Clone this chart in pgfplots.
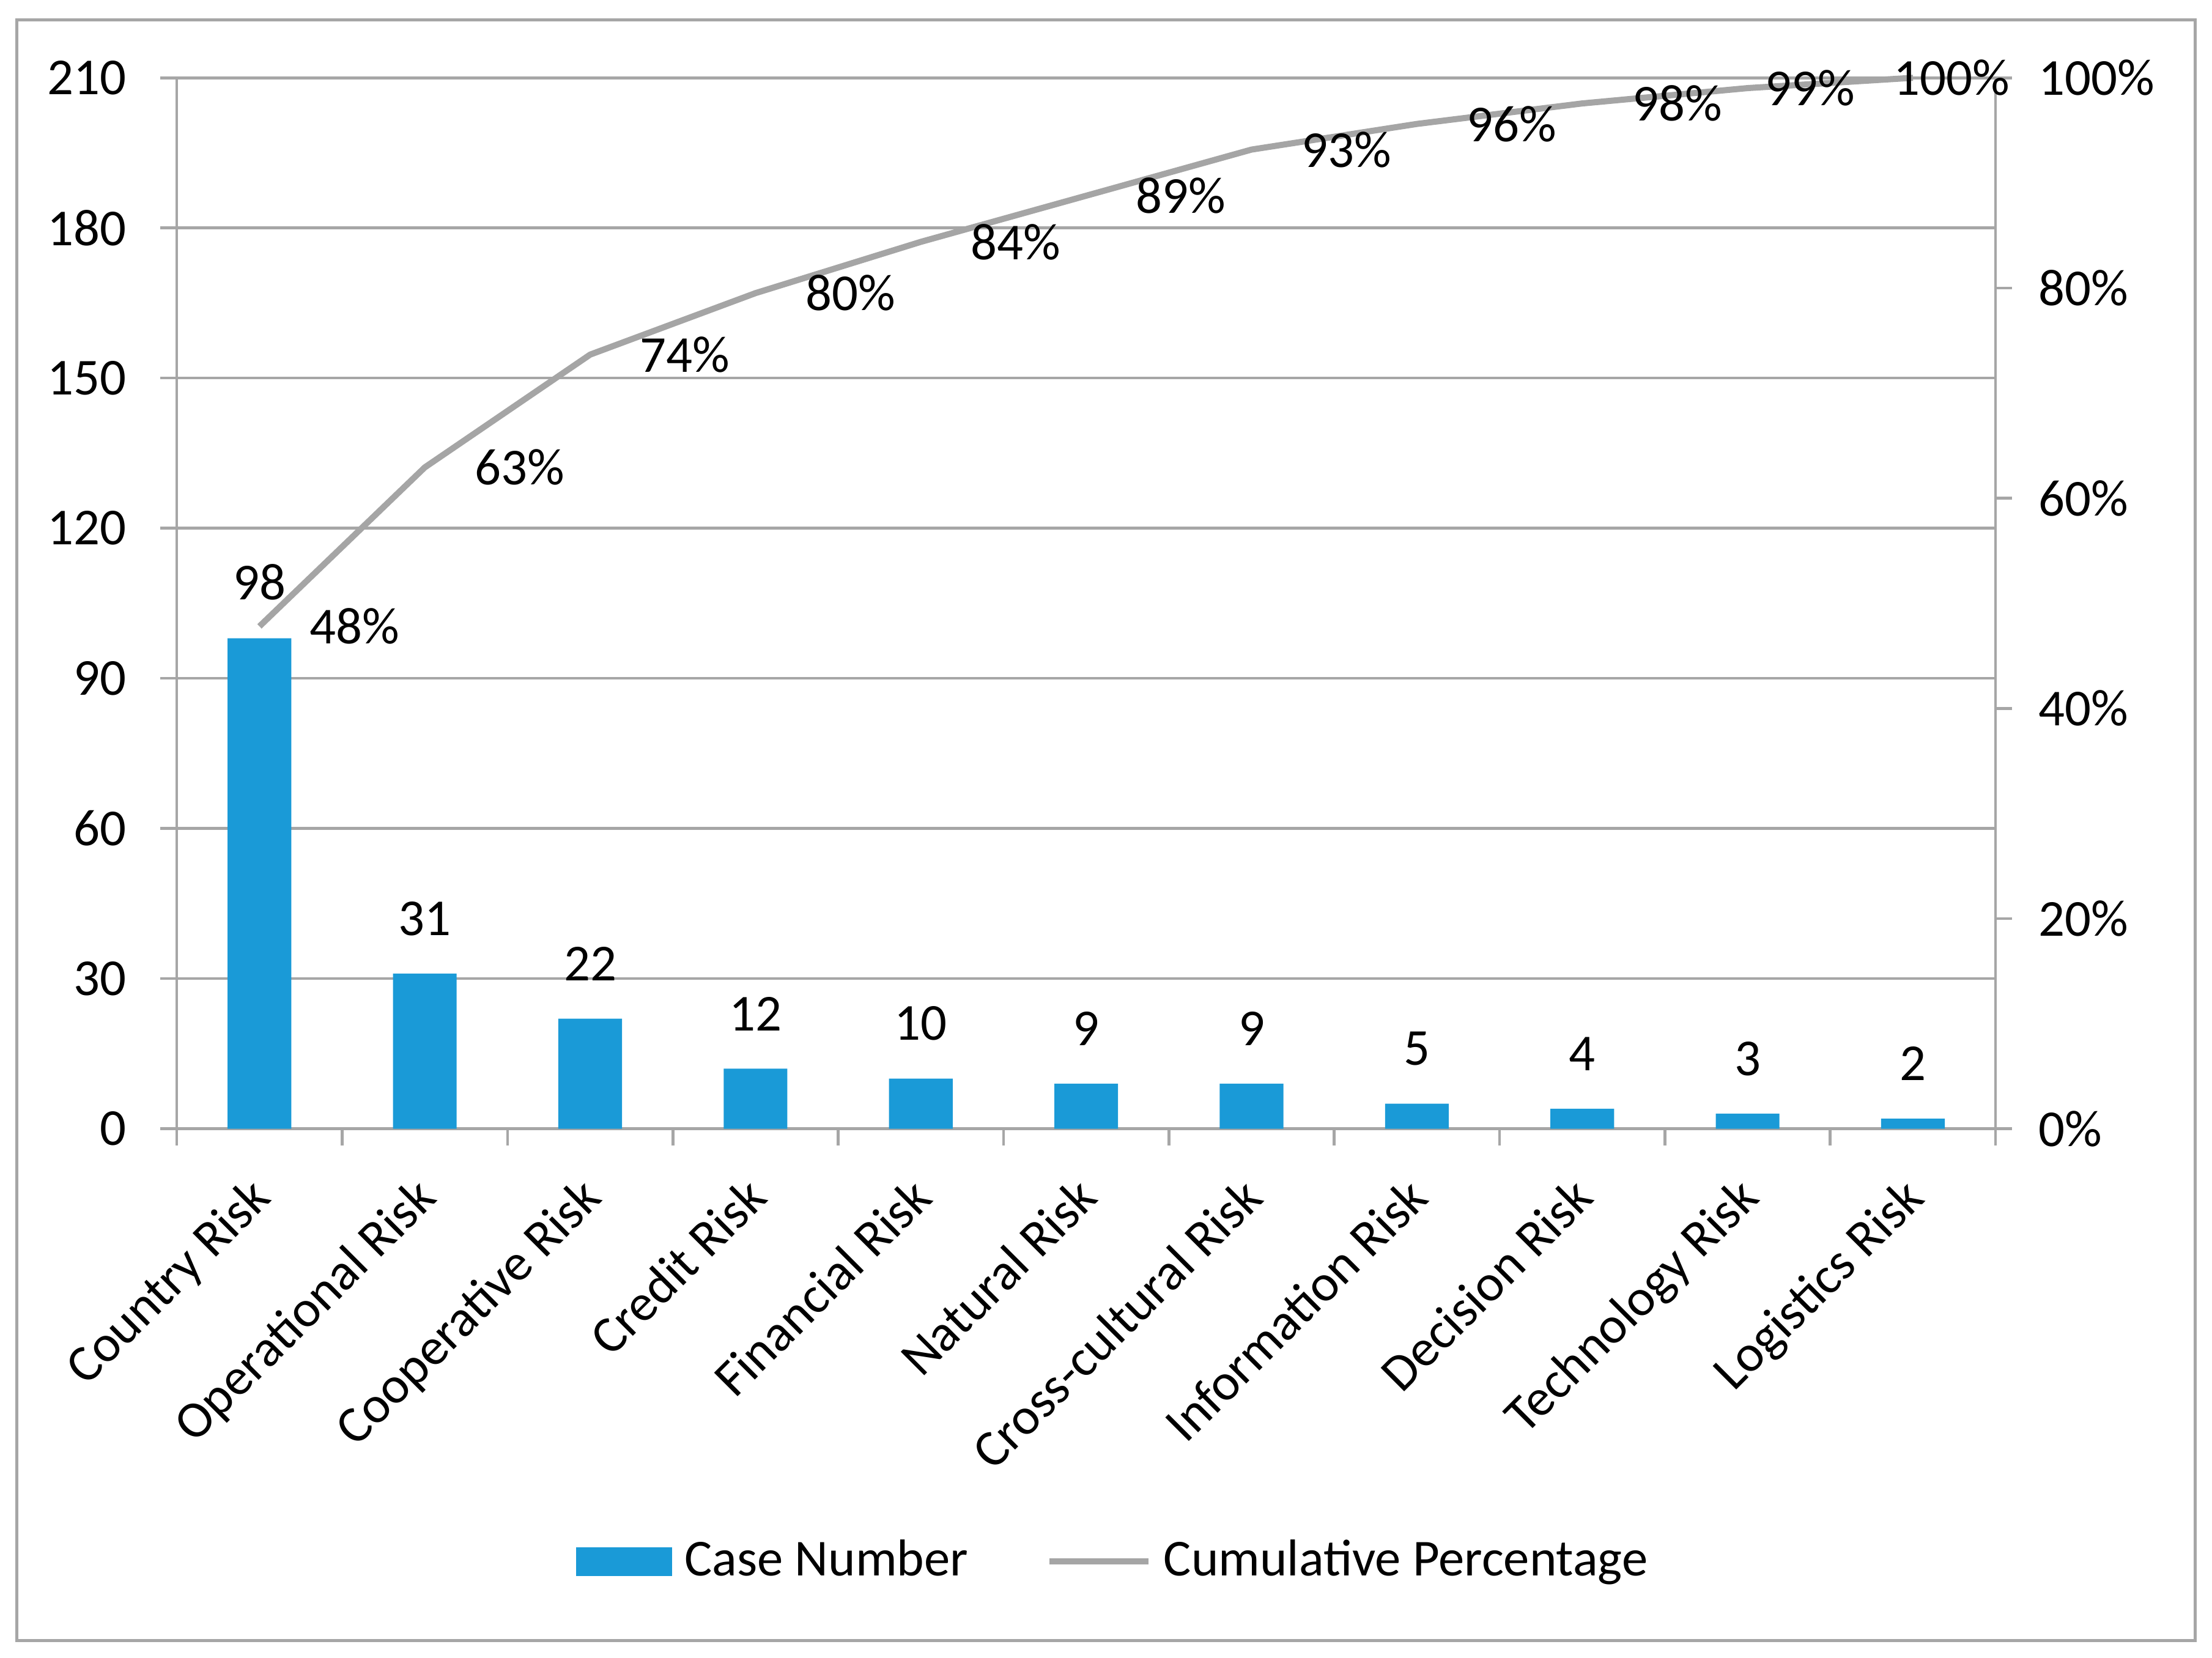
\documentclass[border=0pt]{standalone}
\usepackage{fontspec}
\setmainfont{Carlito}
\usepackage{pgfplots}
\pgfplotsset{compat=1.18}
\usepackage{pgfplotstable}

\definecolor{barblue}{HTML}{1A9AD7}
\definecolor{linegray}{HTML}{A5A5A5}
\definecolor{gridgray}{HTML}{A6A6A6}

% case numbers per risk type
\pgfplotstableread{
x cases
0 98
1 31
2 22
3 12
4 10
5 9
6 9
7 5
8 4
9 3
10 2
}\casetable

% cumulative share, label, label shift (pt)
\pgfplotstableread{
x cum pct dx
0 0.4780 48 6.3
1 0.6293 63 6.3
2 0.7366 74 6.3
3 0.7951 80 6.3
4 0.8439 84 6.3
5 0.8878 89 6.3
6 0.9317 93 6.3
7 0.9561 96 6.3
8 0.9756 98 6.3
9 0.9902 99 -0.6
10 1.0000 100 -8.4
}\cumtable

\pgfplotsset{
  /pgf/number format/assume math mode=true,
}

\begin{document}
\fontsize{11}{13}\selectfont
\begin{tikzpicture}
\begin{axis}[
  name=ax,
  width=385.8pt, height=222.9pt, scale only axis,
  xmin=-0.5, xmax=10.5,
  ymin=0, ymax=210,
  ytick={0,30,...,210},
  xtick={-0.5,0.5,...,9.5},
  xticklabels={Country Risk, Operational Risk, Cooperative Risk, Credit Risk,
    Financial Risk, Natural Risk, Cross-cultural Risk, Information Risk,
    Decision Risk, Technology Risk, Logistics Risk},
  extra x ticks={10.5},
  extra x tick labels={},
  axis lines*=left,
  tick align=outside,
  major tick length=3.5pt,
  axis line style={gridgray, line width=0.6pt},
  tick style={gridgray, line width=0.6pt},
  ymajorgrids,
  grid style={gridgray, line width=0.6pt},
  yticklabel style={xshift=-3.3pt},
  xticklabel style={xshift=15.0pt, yshift=-6.0pt, rotate=45, anchor=north east, inner sep=0pt},
  ybar,
  bar width=13.5pt,
  nodes near coords,
  every node near coord/.append style={black, yshift=4.2pt},
  legend style={at={(0.5175,-0.412)}, anchor=center, draw=none,
    legend columns=2, inner sep=0pt,
    nodes={inner sep=2.6pt},
    /tikz/every even column/.append style={column sep=14pt}},
  clip=false,
]
\addplot[fill=barblue, draw=none,
  legend image code/.code={\fill[barblue] (0pt,-3pt) rectangle (20.4pt,3pt);}]
  table[x=x, y=cases]{\casetable};
\addlegendentry{Case Number}
\addlegendimage{linegray, line width=1.3pt,
  legend image code/.code={\draw[linegray, line width=1.3pt] (0pt,0pt) -- (21pt,0pt);}}
\addlegendentry{Cumulative Percentage}
\end{axis}

\begin{axis}[
  width=385.8pt, height=222.9pt, scale only axis,
  xmin=-0.5, xmax=10.5,
  ymin=0, ymax=1,
  axis x line=none,
  axis y line*=right,
  ytick={0,0.2,0.4,0.6,0.8,1},
  yticklabels={0\%,20\%,40\%,60\%,80\%,100\%},
  tick align=outside,
  major tick length=3.5pt,
  axis line style={gridgray, line width=0.6pt},
  tick style={gridgray, line width=0.6pt},
  yticklabel style={xshift=1.8pt},
  clip=false,
]
\addplot[linegray, line width=1.3pt, line join=round,
  point meta=\thisrow{pct},
  visualization depends on={\thisrow{dx} \as \dx},
  nodes near coords={\pgfmathprintnumber[fixed,precision=0]{\pgfplotspointmeta}\%},
  every node near coord/.append style={black, anchor=west, xshift=\dx pt}]
  table[x=x, y=cum]{\cumtable};
\end{axis}

\draw[gridgray, line width=0.6pt] ([shift={(-33.9pt,-108.6pt)}]ax.south west) rectangle ([shift={(428.1pt,235.2pt)}]ax.south west);
\path ([shift={(-37.5pt,-112.2pt)}]ax.south west) rectangle ([shift={(431.7pt,239.4pt)}]ax.south west);
\end{tikzpicture}
\end{document}
